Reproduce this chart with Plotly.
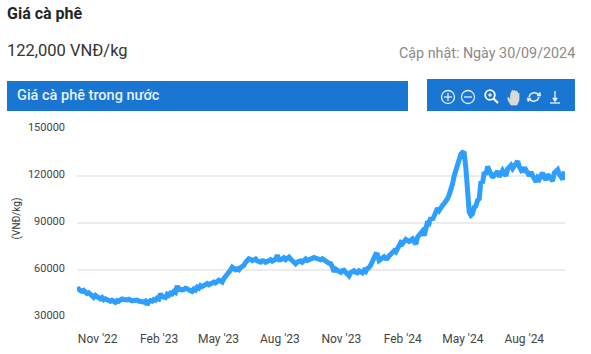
import pandas as pd
import plotly.graph_objects as go

W, H = 591, 354

price_vnd = [
 47200,47800,46800,46300,47000,46000,45000,45500,44200,43200,
 42500,43800,43000,42000,41600,42400,41000,41600,40800,40100,
 40000,40700,39800,39400,40500,40000,40800,41500,41200,40600,
 40900,41300,40700,40300,40500,41000,40800,40200,40000,39400,
 39500,40100,37800,39800,40500,40100,41200,40700,42000,41500,
 44800,43000,43000,42400,44500,43800,45200,44700,46200,45600,
 49800,47500,47800,47200,47600,48300,48000,47000,46800,46300,
 47800,47200,49000,48400,50000,49400,50200,51000,51400,50600,
 51000,51900,52300,51700,52800,53500,53000,52400,54600,55800,
 57000,58800,60000,61800,61000,60200,60800,60200,61500,62200,
 63000,64800,66000,67200,66800,66000,66400,67000,65800,65200,
 65000,65900,65800,64900,65500,66200,66500,65600,66000,66900,
 69500,66500,66500,67600,67800,66600,67000,68200,67000,65800,
 64500,64000,65000,65500,65800,65000,66300,67000,66000,66700,
 66800,67400,68000,67500,67000,66400,66500,67200,66200,65600,
 65000,64300,64000,62000,59000,60500,60000,59000,58500,59600,
 59800,58500,57000,56300,58300,59200,59500,58600,58200,59500,
 58900,58200,59800,59000,61000,61500,63200,65000,67500,70000,
 69800,66000,66800,67800,68400,67400,67500,69000,70500,71200,
 72300,71500,74000,75500,77500,76800,78800,79500,78800,78200,
 79000,79800,78000,76500,81000,81800,83500,84800,82000,86000,
 91000,90000,93500,92000,95000,96500,99500,98000,100500,101200,
 102500,103800,105500,108000,111000,115000,120000,124000,129000,131500,
 134000,135000,134500,125000,108000,97000,95000,96000,100000,100800,
 104500,105500,116500,115500,122500,120800,126000,123500,122000,119000,
 120500,122500,123000,119500,121500,123500,121800,120000,124500,125500,
 126800,124800,126000,127500,129500,126000,124000,125500,122500,123800,
 121800,120200,122500,120500,117500,116300,119000,118000,120500,122000,
 119000,117500,121000,119800,118500,116800,122000,123000,124000,121000,
 119500,117800,123000,
]
dates = pd.date_range("2022-10-01", periods=len(price_vnd), freq="60h")
tick_dates = ["2022-11-01","2023-02-01","2023-05-01","2023-08-01",
              "2023-11-01","2024-02-01","2024-05-01","2024-08-01"]
tick_labels = ["Nov '22","Feb '23","May '23","Aug '23","Nov '23","Feb '24","May '24","Aug '24"]
y_ticks = [30000,60000,90000,120000,150000]

BLUE = "#1976D2"
FONT = "Roboto"

def px(x): return x / W
def py(y): return 1 - y / H

fig = go.Figure(go.Scatter(
    x=dates, y=price_vnd, mode="lines",
    line=dict(color="#2E9FFF", width=5, shape="linear"), hoverinfo="x+y", cliponaxis=False))

shapes = []
def rect(x0, y0, x1, y1, color):
    shapes.append(dict(type="rect", xref="paper", yref="paper", x0=px(x0), x1=px(x1),
                       y0=py(y0), y1=py(y1), fillcolor=color, line_width=0, layer="below"))
def circle(cx, cy, r, w=1.3, color="#e8eef6"):
    shapes.append(dict(type="circle", xref="paper", yref="paper", x0=px(cx-r), x1=px(cx+r),
                       y0=py(cy+r), y1=py(cy-r), line=dict(color=color, width=w)))
def seg(x0, y0, x1, y1, w=1.3, color="#e8eef6"):
    shapes.append(dict(type="line", xref="paper", yref="paper", x0=px(x0), x1=px(x1),
                       y0=py(y0), y1=py(y1), line=dict(color=color, width=w)))
def poly(pts, color, fill=None, w=1.3):
    d = "M " + " L ".join(f"{px(a):.5f},{py(b):.5f}" for a, b in pts)
    if fill: d += " Z"
    shapes.append(dict(type="path", xref="paper", yref="paper", path=d,
                       line=dict(color=color, width=w), fillcolor=fill or "rgba(0,0,0,0)"))

rect(7, 81, 408, 111, BLUE)
rect(427, 79, 575, 111, BLUE)
# toolbar icons
circle(448, 97, 6.5); seg(444, 97, 452, 97); seg(448, 93, 448, 101)
circle(468, 97, 6.5); seg(464, 97, 472, 97)
circle(490, 95, 4.8, 1.8, "#ffffff"); seg(493.5, 98.5, 498, 103, 2.2, "#ffffff")
seg(488, 95, 492, 95, 1.1, "#ffffff"); seg(490, 93, 490, 97, 1.1, "#ffffff")
poly([(508,97),(510,100),(511,93),(512.5,90),(513.5,92),(514.5,90),(515.5,92),(517,91),(518,94),
      (519,93),(519,100),(517,105),(511,105),(508,100)], "#d9d9d9", fill="#d9d9d9", w=0.8)
poly([(529,97),(530.5,94),(534,92.5),(537,93.5),(539,95)], "#e8eef6", w=1.6)
poly([(539,97),(537.5,100),(534,101.5),(531,100.5),(529,99)], "#e8eef6", w=1.6)
poly([(537,96),(541,96),(540,92)], "#e8eef6", fill="#e8eef6", w=0.5)
poly([(527,98),(531,98),(528,102)], "#e8eef6", fill="#e8eef6", w=0.5)
seg(555, 91, 555, 101, 1.4); poly([(552.5,98),(557.5,98),(555,102)], "#e8eef6", fill="#e8eef6", w=0.5)
seg(550, 103, 560, 103, 1.4)

def text(x, y, s, size, color, anchor="left", bold=False, angle=0, weight=None):
    f = dict(family=FONT, size=size, color=color)
    if weight: f["weight"] = weight
    return dict(xref="paper", yref="paper", x=px(x), y=py(y), text=f"<b>{s}</b>" if bold else s,
                showarrow=False, xanchor=anchor, yanchor="middle", textangle=angle,
                borderpad=0, borderwidth=0,
                font=f, align=anchor if anchor!="center" else "center")

annotations = [
    text(7, 14, "Giá cà phê", 16, "#212529", bold=True),
    text(7, 50, "122,000 VNĐ/kg", 16.5, "#333333"),
    text(575, 53, "Cập nhật: Ngày 30/09/2024", 14.3, "#8a8a8a", anchor="right"),
    text(17, 95, "Giá cà phê trong nước", 14.5, "#e8f1fb", weight=500),
    text(16.5, 219, "(VNĐ/kg)", 10, "#333333", anchor="center", angle=-90),
]

fig.update_layout(
    width=W, height=H, margin=dict(l=0, r=0, t=0, b=0, pad=0, autoexpand=False),
    paper_bgcolor="white", plot_bgcolor="white", showlegend=False,
    shapes=shapes, annotations=annotations,
    font=dict(family=FONT, color="#444444"),
    xaxis=dict(domain=[px(77), px(565)], range=["2022-10-01", "2024-10-01"], type="date",
               tickmode="array", tickvals=tick_dates, ticktext=tick_labels, showgrid=False,
               showline=False, zeroline=False, ticks="", ticklabelstandoff=13, automargin=False,
               tickfont=dict(family=FONT, size=12, color="#444444")),
    yaxis=dict(domain=[py(317), py(129)], range=[30000, 150000], tickmode="array", tickvals=y_ticks,
               ticktext=[str(v) for v in y_ticks], showgrid=True, gridcolor="#ececec", gridwidth=2,
               showline=False, zeroline=False, ticks="", ticklabelstandoff=11, ticklabelshift=-2, automargin=False,
               tickfont=dict(family=FONT, size=11, color="#444444")),
)
fig.write_html("out.html", config={"displayModeBar": False},
               post_script="document.body.style.margin='0';document.body.style.overflow='hidden';")
